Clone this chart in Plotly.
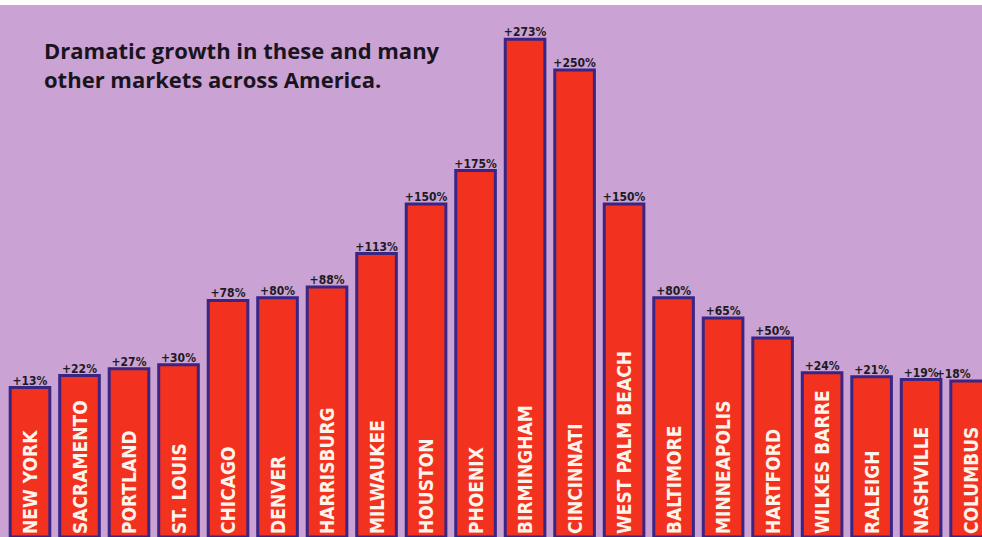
import plotly.graph_objects as go

cities = ["NEW YORK", "SACRAMENTO", "PORTLAND", "ST. LOUIS", "CHICAGO", "DENVER",
          "HARRISBURG", "MILWAUKEE", "HOUSTON", "PHOENIX", "BIRMINGHAM", "CINCINNATI",
          "WEST PALM BEACH", "BALTIMORE", "MINNEAPOLIS", "HARTFORD", "WILKES BARRE",
          "RALEIGH", "NASHVILLE", "COLUMBUS"]
growth = [13, 22, 27, 30, 78, 80, 88, 113, 150, 175, 273, 250, 150, 80, 65, 50, 24, 21, 19, 18]
growth_labels = ["+%d%%" % v for v in growth]
title_text = "Dramatic growth in these and many<br>other markets across America."

Y_MIN, Y_MAX = -98.5, 298.5
NARROW = "Liberation Sans Narrow, Arial Narrow, DejaVu Sans Condensed, Liberation Sans, sans-serif"

label_pos = ["top center"] * (len(cities) - 1) + ["top left"]

fig = go.Figure()
fig.add_trace(go.Bar(
    x=cities, y=[v - Y_MIN for v in growth], base=Y_MIN,
    width=0.8,
    marker=dict(color="#f2321f", line=dict(color="#3a2585", width=3)),
    text=cities, textposition="inside", insidetextanchor="start", textangle=-90,
    constraintext="none",
    textfont=dict(family=NARROW, size=19, color="#fff4ec", weight="bold"),
    hoverinfo="skip",
))
fig.add_trace(go.Scatter(
    x=cities, y=growth, mode="text", text=growth_labels, textposition=label_pos,
    textfont=dict(family=NARROW, size=12, color="#1e1a22", weight="bold"),
    hoverinfo="skip", cliponaxis=False,
))
fig.add_annotation(
    text=title_text, xref="paper", yref="paper", x=42 / 982, y=0.948,
    xanchor="left", yanchor="top", align="left", showarrow=False,
    font=dict(family="Open Sans, sans-serif", size=22, color="#1a1420", weight="bold"),
)
fig.update_layout(
    width=982, height=537,
    margin=dict(l=0, r=0, t=5, b=0),
    paper_bgcolor="white", plot_bgcolor="#caa2d3",
    showlegend=False, bargap=0.2,
    xaxis=dict(range=[-0.606, 19.23], showticklabels=False, showgrid=False,
               zeroline=False, ticks=""),
    yaxis=dict(range=[Y_MIN, Y_MAX], showticklabels=False, showgrid=False,
               zeroline=False, ticks=""),
)
fig.write_html("out.html")
